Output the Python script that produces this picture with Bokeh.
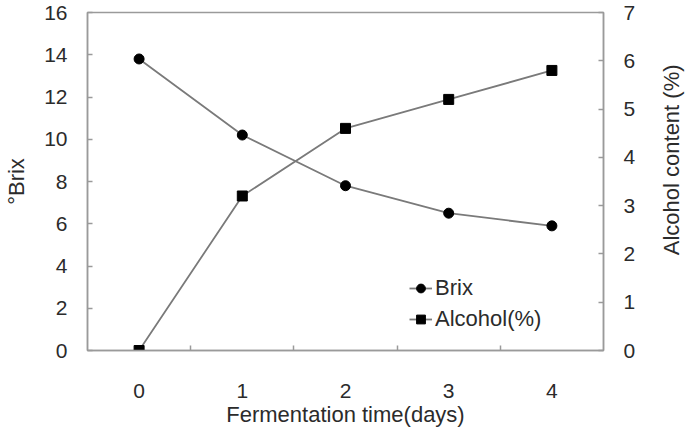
import math
from bokeh.plotting import figure
from bokeh.layouts import row
from bokeh.models import (Range1d, LinearAxis, FixedTicker, Legend, LegendItem,
                          ColumnDataSource)
from bokeh.core.properties import value
from bokeh.embed import file_html
from bokeh.resources import INLINE

# Fermentation data
days = [0, 1, 2, 3, 4]
brix = [13.8, 10.2, 7.8, 6.5, 5.9]
alcohol = [0.0, 3.2, 4.6, 5.2, 5.8]

brix_ticks = [0, 2, 4, 6, 8, 10, 12, 14, 16]
alcohol_ticks = [0, 1, 2, 3, 4, 5, 6, 7]
day_boundaries = [0.5, 1.5, 2.5, 3.5]

FONT = "Liberation Sans"
TEXT = "#2b2b2b"
AXIS = "#9a9a9a"
LINE = "#7a7a7a"

p = figure(width=655, height=429, output_backend="svg", toolbar_location=None,
           x_range=Range1d(-0.5, 4.5), y_range=Range1d(0, 16),
           min_border_left=87, min_border_right=52,
           min_border_top=12, min_border_bottom=78)
p.extra_y_ranges = {"alc": Range1d(0, 7)}

p.xgrid.visible = False
p.ygrid.visible = False
p.outline_line_color = AXIS
p.outline_line_width = 1.5
p.background_fill_color = "white"
p.border_fill_color = "white"

# bottom axis: labels at each day, small ticks between days
xa = p.xaxis[0]
xa.ticker = FixedTicker(ticks=days, minor_ticks=day_boundaries)
xa.major_tick_line_color = None
xa.minor_tick_in = 5
xa.minor_tick_out = 0
xa.minor_tick_line_color = AXIS
xa.minor_tick_line_width = 1.5
xa.axis_line_color = AXIS
xa.axis_line_width = 1.5
xa.major_label_standoff = 27
xa.major_label_text_font = FONT
xa.major_label_text_font_size = "21px"
xa.major_label_text_color = TEXT
xa.axis_label = "Fermentation time(days)"
xa.axis_label_standoff = 1
xa.axis_label_text_font = FONT
xa.axis_label_text_font_size = "22px"
xa.axis_label_text_font_style = "normal"
xa.axis_label_text_color = TEXT

# left axis: Brix
ya = p.yaxis[0]
ya.ticker = FixedTicker(ticks=brix_ticks)
ya.major_tick_in = 5
ya.major_tick_out = 0
ya.minor_tick_line_color = None
ya.major_tick_line_color = AXIS
ya.major_tick_line_width = 1.5
ya.axis_line_color = AXIS
ya.axis_line_width = 1.5
ya.major_label_standoff = 20
ya.major_label_text_font = FONT
ya.major_label_text_font_size = "21px"
ya.major_label_text_color = TEXT
ya.axis_label = "°Brix"
ya.axis_label_standoff = 12
ya.axis_label_text_font = FONT
ya.axis_label_text_font_size = "22px"
ya.axis_label_text_font_style = "normal"
ya.axis_label_text_color = TEXT

# right axis: alcohol content
ra = LinearAxis(y_range_name="alc", ticker=FixedTicker(ticks=alcohol_ticks))
ra.major_tick_in = 5
ra.major_tick_out = 0
ra.minor_tick_line_color = None
ra.major_tick_line_color = AXIS
ra.major_tick_line_width = 1.5
ra.axis_line_color = AXIS
ra.axis_line_width = 1.5
ra.major_label_standoff = 20
ra.major_label_text_font = FONT
ra.major_label_text_font_size = "21px"
ra.major_label_text_color = TEXT
p.add_layout(ra, "right")

src = ColumnDataSource(dict(day=days, brix=brix, alcohol=alcohol))

b_line = p.line("day", "brix", source=src, line_color=LINE, line_width=1.8)
b_pts = p.scatter("day", "brix", source=src, marker="circle", size=10,
                  fill_color="black", line_color="black")
a_line = p.line("day", "alcohol", source=src, y_range_name="alc",
                line_color=LINE, line_width=1.8)
a_pts = p.scatter("day", "alcohol", source=src, y_range_name="alc",
                  marker="square", size=10, fill_color="black", line_color="black")

legend = Legend(items=[LegendItem(label="Brix", renderers=[b_line, b_pts]),
                       LegendItem(label="Alcohol(%)", renderers=[a_line, a_pts])],
                location=(322, 18), orientation="vertical",
                border_line_color=None, background_fill_alpha=0,
                padding=0, margin=0, spacing=5,
                glyph_width=23, glyph_height=22, label_height=22,
                label_standoff=3,
                label_text_font=FONT, label_text_font_size="22px",
                label_text_color=TEXT)
p.add_layout(legend)

# narrow strip on the right holding the alcohol-axis title (reads bottom-to-top)
side = figure(width=34, height=429, output_backend="svg", toolbar_location=None,
              x_range=Range1d(0, 34), y_range=Range1d(0, 429),
              x_axis_type=None, y_axis_type=None,
              min_border=0, min_border_left=0, min_border_right=0,
              min_border_top=0, min_border_bottom=0)
side.outline_line_color = None
side.background_fill_color = "white"
side.border_fill_color = "white"
side.text(x=[16], y=[242], text=["Alcohol content (%)"], angle=math.pi / 2,
          text_align="center", text_baseline="middle",
          text_font=value(FONT), text_font_size=value("22px"), text_color=TEXT)

layout = row(p, side, spacing=0)
open("out.html", "w").write(file_html(layout, INLINE))
